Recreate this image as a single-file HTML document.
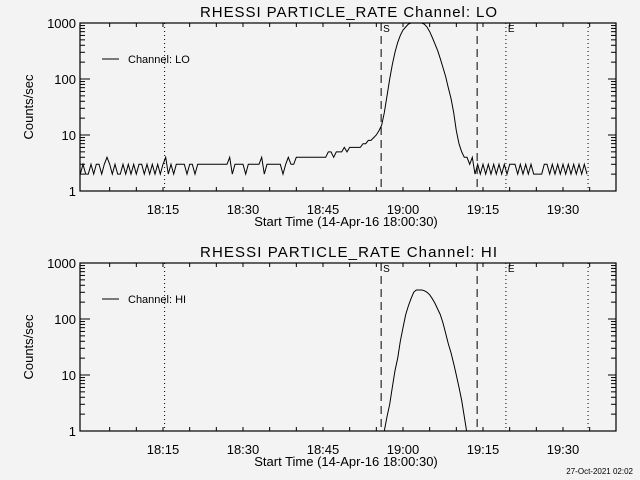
<!DOCTYPE html>
<html><head><meta charset="utf-8"><style>
html,body{margin:0;padding:0;background:#f3f3f3;}
svg{display:block;font-family:"Liberation Sans",sans-serif;}
</style></head><body>
<svg id="chart" width="640" height="480" viewBox="0 0 640 480">
<rect x="0" y="0" width="640" height="480" fill="#f3f3f3"/>
<text x="633" y="474" font-size="8" text-anchor="end" fill="#000">27-Oct-2021 02:02</text>
</svg>
<script>
// time in minutes after 18:00
const xMajorTicks = [15, 30, 45, 60, 75, 90];
const xTickLabels = ["18:15", "18:30", "18:45", "19:00", "19:15", "19:30"];
const yDecades = [1, 10, 100, 1000];
const yTickLabels = ["1", "10", "100", "1000"];
const dottedLines = [15.3, 79.3, 94.7];
const dashedLines = [55.9, 73.9];
const loStart = -0.5;
const loStep = 0.5;
const loValues = [2,3,2,2,3,2,3,3,2,3,4,3,2,3,2,2,3,2,3,2,3,2,3,3,2,3,2,3,2,3,2,3,4,2,3,2,
3,3,3,3,2,3,3,2,3,3,3,3,3,3,3,3,3,3,3,3,
4,2,3,3,3,3,2,3,3,3,3,3,4,2,3,3,3,3,3,3,2,3,4,3,3,4,
4,4,4,4,4,4,4,4,4,4,
4,5,5,4,5,5,5,6,5,6,6,6,6,6,7,7,8,8,9,10,
12,15,25,50,100,180,300,450,600,750,850,950,1000,1050,1050,1050,
1000,950,850,700,550,420,320,230,160,110,70,45,25,12,7,5,4,4,
3,4,2,3,2,3,2,3,2,3,2,3,2,3,2,3,3,3,2,3,2,3,2,3,2,2,2,2,3,3,2,3,2,3,2,3,2,3,2,3,2,3,2,3,2];
const hiStart = 56;
const hiStep = 0.5;
const hiValues = [0.6,1,1.8,3,6,12,20,40,70,120,170,230,300,330,330,330,320,300,270,230,190,150,120,85,55,36,25,16,10,6,3.5,1.8,0.9,0.5];

const NS = "http://www.w3.org/2000/svg";
const svg = document.getElementById('chart');
const X0 = 80, X1 = 616;
function xs(t){ return 163 + (t - 15) * 80 / 15; }
function mk(tag, attrs, parent){
  const e = document.createElementNS(NS, tag);
  for (const k in attrs) e.setAttribute(k, attrs[k]);
  (parent || svg).appendChild(e);
  return e;
}
function drawPanel(top, label, startT, step, values, pname){
  const bot = top + 168;
  function ys(v){ return bot - Math.log10(v) * 56; }
  const g = mk('g', {});
  
  
  const title = mk('text', {x: 200, y: top - 6, 'font-size': 15, fill: '#000', textLength: 297, lengthAdjust: 'spacing'}, g);
  title.textContent = 'RHESSI PARTICLE_RATE Channel: ' + label;
  
  
  const cid = 'clip-' + pname;
  const cp = mk('clipPath', {id: cid}, g);
  mk('rect', {x: X0, y: top, width: X1 - X0, height: bot - top}, cp);
  dottedLines.forEach(function(t){
    const l = mk('line', {x1: xs(t), x2: xs(t), y1: top, y2: bot, stroke: '#000', 'stroke-width': 1, 'stroke-dasharray': '1,3'}, g);
    
    
  });
  dashedLines.forEach(function(t){
    const l = mk('line', {x1: xs(t), x2: xs(t), y1: top, y2: bot, stroke: '#000', 'stroke-width': 1, 'stroke-dasharray': '8,5'}, g);
    
    
  });
  const sLab = mk('text', {x: xs(dashedLines[0]) + 2, y: top + 9, 'font-size': 10, fill: '#000'}, g);
  sLab.textContent = 'S';
  
  
  const eLab = mk('text', {x: xs(dottedLines[1]) + 2, y: top + 9, 'font-size': 10, fill: '#000'}, g);
  eLab.textContent = 'E';
  
  
  let d = '';
  values.forEach(function(v, i){
    const t = startT + i * step;
    d += (i ? 'L' : 'M') + xs(t).toFixed(1) + ',' + ys(v).toFixed(1);
  });
  const p = mk('path', {d: d, fill: 'none', stroke: '#000', 'stroke-width': 1, 'clip-path': 'url(#' + cid + ')'}, g);
  
  
  const fr = mk('rect', {x: X0, y: top, width: X1 - X0, height: bot - top, fill: 'none', stroke: '#000', 'stroke-width': 1.2}, g);
  
  
  yDecades.forEach(function(v, i){
    const y = ys(v);
    mk('line', {x1: X0, x2: X0 + 10, y1: y, y2: y, stroke: '#000'}, g);
    mk('line', {x1: X1 - 8, x2: X1, y1: y, y2: y, stroke: '#000'}, g);
    const tl = mk('text', {x: X0 - 4, y: y + 5, 'font-size': 13, 'text-anchor': 'end', fill: '#000'}, g);
    tl.textContent = yTickLabels[i];
    
    
    if (i < yDecades.length - 1) {
      for (let m = 2; m <= 9; m++) {
        const ym = ys(v * m);
        mk('line', {x1: X0, x2: X0 + 5, y1: ym, y2: ym, stroke: '#000'}, g);
        mk('line', {x1: X1 - 5, x2: X1, y1: ym, y2: ym, stroke: '#000'}, g);
      }
    }
  });
  for (let t = 5; t <= 95; t += 5) {
    const x = xs(t);
    mk('line', {x1: x, x2: x, y1: bot, y2: bot - 4, stroke: '#000'}, g);
    mk('line', {x1: x, x2: x, y1: top, y2: top + 4, stroke: '#000'}, g);
  }
  xMajorTicks.forEach(function(t, i){
    const tl = mk('text', {x: xs(t), y: bot + 23, 'font-size': 13, 'text-anchor': 'middle', fill: '#000'}, g);
    tl.textContent = xTickLabels[i];
    
    
  });
  const xt = mk('text', {x: 346, y: bot + 35, 'font-size': 13, 'text-anchor': 'middle', fill: '#000'}, g);
  xt.textContent = 'Start Time (14-Apr-16 18:00:30)';
  
  
  const yt = mk('text', {x: 0, y: 0, 'font-size': 13, 'text-anchor': 'middle', fill: '#000', transform: 'translate(33,' + (top + 84) + ') rotate(-90)'}, g);
  yt.textContent = 'Counts/sec';
  
  
  const ll = mk('line', {x1: 102, x2: 119, y1: top + 36, y2: top + 36, stroke: '#000'}, g);
  
  
  const lt = mk('text', {x: 128, y: top + 40, 'font-size': 11, fill: '#000'}, g);
  lt.textContent = 'Channel: ' + label;
  
  
}
drawPanel(23, 'LO', loStart, loStep, loValues, 'lo');
drawPanel(263, 'HI', hiStart, hiStep, hiValues, 'hi');
</script>
</body></html>
